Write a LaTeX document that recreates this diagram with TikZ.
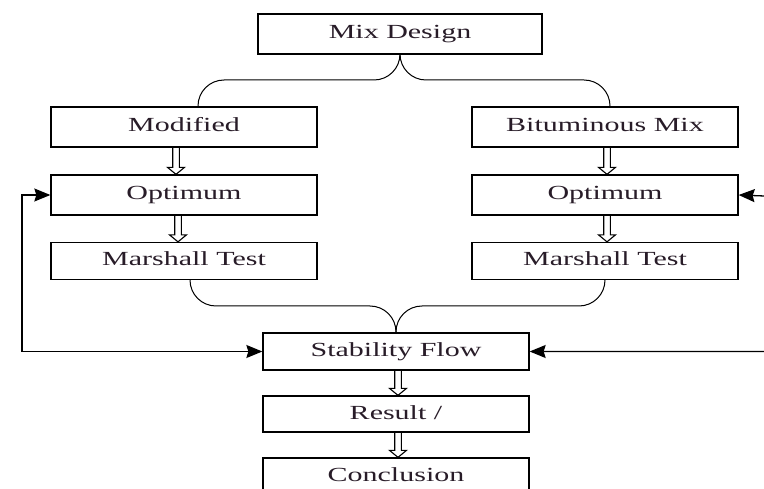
\documentclass[tikz,border=0pt]{standalone}
\usepackage{fontspec}
\setmainfont{Liberation Serif}[FakeStretch=1.5]
\usetikzlibrary{arrows.meta,calc}
\definecolor{ink}{RGB}{40,28,40}

\begin{document}
\begin{tikzpicture}[x=1pt, y=-1pt]
	\tikzstyle{every node}=[inner sep=0pt, align=center, font=\fontsize{20}{24}\selectfont, text=ink]
	\tikzstyle{box}=[draw, line width=1.3pt, minimum width=266pt, minimum height=40pt, text height=14pt, text depth=4pt]
	\tikzstyle{brace}=[line width=1pt, rounded corners=26pt]
	\tikzstyle{fb}=[line width=1.3pt, {Stealth[length=16pt,width=13pt,inset=2pt]}-{Stealth[length=16pt,width=13pt,inset=2pt]}]
	\tikzstyle{dbl}=[line width=1.1pt, to path={let \p1=(\tikztostart), \p2=(\tikztotarget) in
		(\x1-3.3pt,\y1) -- (\x1-3.3pt,\y2+7pt) -- (\x1-8.5pt,\y2+7pt) -- (\x1,\y2)
		-- (\x1+8.5pt,\y2+7pt) -- (\x1+3.3pt,\y2+7pt) -- (\x1+3.3pt,\y1)}]
	\useasboundingbox (0,0) rectangle (764,489);
	\fill[white] (0,0) rectangle (764,489);
	\clip (0,0) rectangle (764,489);
	% boxes
	\node[box, minimum width=284pt] (mix) at (400,34) {Mix Design};
	\node[box] (mod) at (184,127) {Modified};
	\node[box] (bit) at (605,127) {Bituminous Mix};
	\node[box] (opt1) at (184,195) {Optimum};
	\node[box] (opt2) at (605,195) {Optimum};
	\node[box, minimum height=37pt] (mar1) at (184,261) {Marshall Test};
	\node[box, minimum height=37pt] (mar2) at (605,261) {Marshall Test};
	\node[box, minimum height=37pt] (stab) at (396,351.5) {Stability Flow};
	\node[box, minimum height=36pt] (res) at (396,414) {Result /};
	\node[box, minimum height=37pt] (con) at (396,476.5) {Conclusion};
	\coordinate (lturn) at (22,195);
	\coordinate (rturn) at (790,197);
	% braces
	\draw[brace] (mix.south) -- (mix.south |- 0,80) -| ([xshift=14pt]mod.north);
	\draw[brace] (mix.south) -- (mix.south |- 0,80) -| ([xshift=5pt]bit.north);
	\draw[brace] ([xshift=6pt]mar1.south) |- (stab.north |- 0,306) -- (stab.north);
	\draw[brace] (mar2.south) |- (stab.north |- 0,306) -- (stab.north);
	% hollow arrows
	\draw[dbl] ([xshift=-8pt]mod.south) to ([xshift=-8pt]opt1.north);
	\draw[dbl] ([xshift=-6pt]opt1.south) to ([xshift=-6pt]mar1.north);
	\draw[dbl] ([xshift=2pt]bit.south) to ([xshift=2pt]opt2.north);
	\draw[dbl] ([xshift=2pt]opt2.south) to ([xshift=2pt]mar2.north);
	\draw[dbl] ([xshift=2pt]stab.south) to ([xshift=2pt]res.north);
	\draw[dbl] ([xshift=2pt]res.south) to ([xshift=2pt]con.north);
	% feedback
	\draw[fb] (stab.west) -| (lturn) -- (opt1.west);
	\draw[fb] (stab.east) -| (rturn) -- (opt2.east);
\end{tikzpicture}
\end{document}
